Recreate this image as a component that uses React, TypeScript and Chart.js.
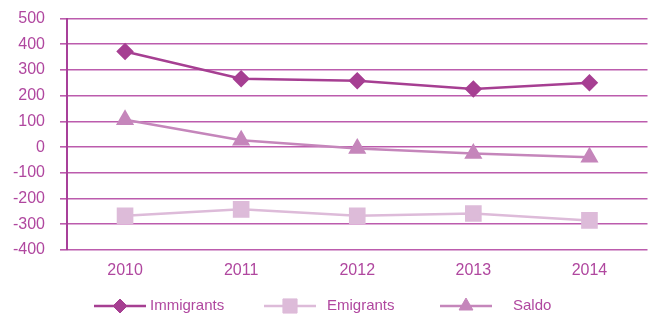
import React, { useEffect, useRef } from "react";
import { Chart, registerables } from "chart.js";
import { drawPoint } from "chart.js/helpers";

Chart.register(...registerables);

const years = ["2010", "2011", "2012", "2013", "2014"];
const immigrants = [372, 266, 258, 226, 250];
const emigrants = [-267, -242, -267, -258, -285];
const saldo = [106, 27, -5, -25, -39];
const yTicks = { min: -400, max: 500, step: 100 };

const FONT = "'Liberation Sans', Arial, sans-serif";
const TEXT = "#B0479F";

const legendLayout = [
  { x: 94, gap: 4 },
  { x: 264, gap: 11 },
  { x: 440, gap: 21 },
];

const legendPlugin = {
  id: "lineLegend",
  afterDraw(chart: any) {
    const ctx = chart.ctx;
    const y = 306;
    chart.data.datasets.forEach((ds: any, i: number) => {
      const l = legendLayout[i];
      const len = 52;
      ctx.save();
      ctx.strokeStyle = ds.borderColor;
      ctx.lineWidth = 2.5;
      ctx.beginPath();
      ctx.moveTo(l.x, y);
      ctx.lineTo(l.x + len, y);
      ctx.stroke();
      ctx.fillStyle = ds.pointBackgroundColor;
      ctx.strokeStyle = ds.pointBorderColor;
      ctx.lineWidth = 1;
      drawPoint(ctx, { pointStyle: ds.pointStyle, radius: ds.pointRadius, rotation: 0, borderWidth: 1 }, l.x + len / 2, y);
      ctx.fillStyle = TEXT;
      ctx.font = `15px ${FONT}`;
      ctx.textBaseline = "middle";
      ctx.textAlign = "left";
      ctx.fillText(ds.label, l.x + len + l.gap, y);
      ctx.restore();
    });
  },
};

export default function App() {
  const ref = useRef<HTMLCanvasElement>(null);
  useEffect(() => {
    if (!ref.current) return;
    const mk = (label: string, data: number[], color: string, style: string, r: number) => ({
      label,
      data,
      borderColor: color,
      backgroundColor: color,
      pointBackgroundColor: color,
      pointBorderColor: color,
      pointStyle: style,
      pointRadius: r,
      pointHoverRadius: r,
      borderWidth: 2.5,
      tension: 0,
    });
    const chart = new Chart(ref.current, {
      type: "line",
      data: {
        labels: years,
        datasets: [
          mk("Immigrants", immigrants, "#A63F92", "rectRot", 7),
          mk("Emigrants", emigrants, "#DDBBD9", "rect", 10),
          mk("Saldo", saldo, "#C586BB", "triangle", 8),
        ] as any,
      },
      options: {
        animation: false,
        responsive: false,
        events: [],
        layout: { padding: { top: 18.5, right: 10, left: 0, bottom: 0 } },
        plugins: { legend: { display: false }, tooltip: { enabled: false } },
        scales: {
          x: {
            offset: true,
            grid: { display: false, drawTicks: false },
            border: { display: false },
            ticks: { color: TEXT, font: { family: FONT, size: 16 }, padding: 11 },
            afterFit: (s: any) => {
              s.height = 66;
              s.paddingLeft = 0;
              s.paddingRight = 0;
            },
          },
          y: {
            min: yTicks.min,
            max: yTicks.max,
            ticks: { stepSize: yTicks.step, color: TEXT, font: { family: FONT, size: 16 }, padding: 15 },
            grid: { color: "#BC5CAD", lineWidth: 1.6, tickLength: 7, drawTicks: true },
            border: { display: true, color: "#A8409A", width: 2 },
            afterFit: (s: any) => {
              s.width = 67;
              s.paddingTop = 0;
              s.paddingBottom = 0;
            },
          },
        },
      },
      plugins: [legendPlugin],
    } as any);
    return () => chart.destroy();
  }, []);
  return (
    <div style={{ position: "fixed", left: 0, top: 0, width: 660, height: 316, background: "#fff" }}>
      <canvas ref={ref} width={660} height={316} />
    </div>
  );
}
